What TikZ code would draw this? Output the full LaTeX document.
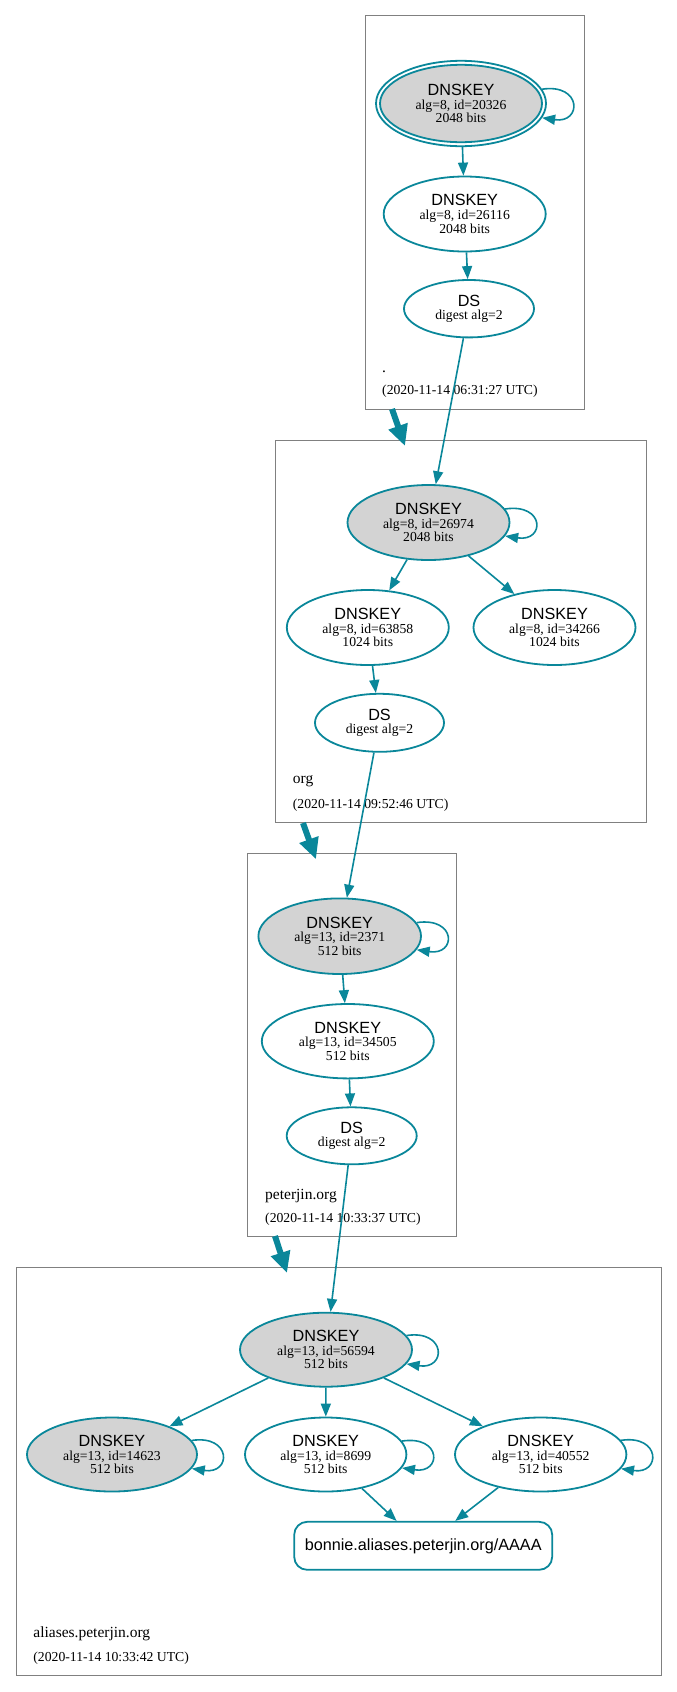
\documentclass[tikz,border=0pt]{standalone}
\usepackage{fontspec}
\setmainfont{Liberation Serif}
\setsansfont{Liberation Sans}
\usetikzlibrary{arrows.meta,shapes.geometric}
\definecolor{dnsteal}{HTML}{0A879A}
\definecolor{kskgray}{HTML}{D3D3D3}
\definecolor{zoneline}{HTML}{808080}
\newcommand{\ttl}[1]{{\sffamily\fontsize{16.2}{13.7}\selectfont #1}}
\begin{document}
\begin{tikzpicture}[x=1pt,y=-1pt,
 key/.style={ellipse, draw=dnsteal, line width=1.8pt, inner sep=0pt, align=center, font=\fontsize{13.7}{13.6}\selectfont},
 ksk/.style={key, fill=kskgray},
 edge/.style={draw=dnsteal, line width=1.6pt, -{Triangle[length=13pt,width=10pt]}},
 deleg/.style={draw=dnsteal, line width=6pt, -{Triangle[length=21pt,width=19pt]}},
 zonebox/.style={draw=zoneline, line width=1pt},
 zlabel/.style={anchor=base west, inner sep=0pt, font=\fontsize{15.5}{16}\selectfont},
 zdate/.style={anchor=base west, inner sep=0pt, font=\fontsize{13.7}{14}\selectfont},
 rrbox/.style={rectangle, rounded corners=13pt, draw=dnsteal, line width=1.8pt, minimum width=258pt, minimum height=48pt, font=\sffamily\fontsize{16.2}{18}\selectfont}
]
\useasboundingbox (0,0) rectangle (677,1692);

% zone boxes
\draw[zonebox] (365,15.7) rectangle (584,409);
\draw[zonebox] (275.7,440) rectangle (646.7,822.7);
\draw[zonebox] (247.7,853.3) rectangle (456,1236);
\draw[zonebox] (16,1267.3) rectangle (661,1675.7);

% zone labels
\node[zlabel] (rlab) at (382,372) {.};
\node[zdate] (rdate) at (382,394.5) {(2020-11-14 06:31:27 UTC)};
\node[zlabel] (olab) at (292.7,783.5) {org};
\node[zdate] (odate) at (292.7,808) {(2020-11-14 09:52:46 UTC)};
\node[zlabel] (plab) at (265,1199) {peterjin.org};
\node[zdate] (pdate) at (265,1222) {(2020-11-14 10:33:37 UTC)};
\node[zlabel] (alab) at (33.2,1637) {aliases.peterjin.org};
\node[zdate] (adate) at (33.2,1661) {(2020-11-14 10:33:42 UTC)};

% root zone
\path[draw=dnsteal, fill=kskgray, line width=1.8pt] (461,103.5) ellipse [x radius=81pt, y radius=38.7pt];
\node[key, minimum width=170pt, minimum height=85.4pt] (rksk) at (461,103.5) {\ttl{DNSKEY}\\alg=8, id=20326\\2048 bits};
\node[key, minimum width=162pt, minimum height=75pt] (rzsk) at (464.7,214) {\ttl{DNSKEY}\\alg=8, id=26116\\2048 bits};
\node[key, minimum width=130pt, minimum height=57.4pt] (rds) at (469,308.7) {\ttl{DS}\\digest alg=2};

% org zone
\node[ksk, minimum width=162pt, minimum height=75pt] (oksk) at (428.5,522.5) {\ttl{DNSKEY}\\alg=8, id=26974\\2048 bits};
\node[key, minimum width=162pt, minimum height=75pt] (ozsk1) at (367.8,627.5) {\ttl{DNSKEY}\\alg=8, id=63858\\1024 bits};
\node[key, minimum width=162pt, minimum height=75pt] (ozsk2) at (554.5,627.5) {\ttl{DNSKEY}\\alg=8, id=34266\\1024 bits};
\node[key, minimum width=129pt, minimum height=58pt] (ods) at (379.5,722.8) {\ttl{DS}\\digest alg=2};

% peterjin.org zone
\node[ksk, minimum width=162.6pt, minimum height=75.6pt] (pksk) at (339.7,936.2) {\ttl{DNSKEY}\\alg=13, id=2371\\512 bits};
\node[key, minimum width=172pt, minimum height=74.4pt] (pzsk) at (347.8,1041.2) {\ttl{DNSKEY}\\alg=13, id=34505\\512 bits};
\node[key, minimum width=130pt, minimum height=57pt] (pds) at (351.7,1135.8) {\ttl{DS}\\digest alg=2};

% aliases.peterjin.org zone
\node[ksk, minimum width=172pt, minimum height=74pt] (aksk) at (326,1349.7) {\ttl{DNSKEY}\\alg=13, id=56594\\512 bits};
\node[ksk, minimum width=170pt, minimum height=74pt] (ak1) at (112,1454.5) {\ttl{DNSKEY}\\alg=13, id=14623\\512 bits};
\node[key, minimum width=161.4pt, minimum height=74pt] (ak2) at (325.7,1454.5) {\ttl{DNSKEY}\\alg=13, id=8699\\512 bits};
\node[key, minimum width=171.4pt, minimum height=74pt] (ak3) at (540.7,1454.5) {\ttl{DNSKEY}\\alg=13, id=40552\\512 bits};
\node[rrbox] (aaaa) at (423.2,1545.8) {bonnie.aliases.peterjin.org/AAAA};

% delegation arrows
\coordinate (d1s) at (392,409);
\coordinate (d1e) at (405,446);
\coordinate (d2s) at (303,823);
\coordinate (d2e) at (316,859.3);
\coordinate (d3s) at (275,1236);
\coordinate (d3e) at (287,1273);
\draw[deleg] (d1s) -- (d1e);
\draw[deleg] (d2s) -- (d2e);
\draw[deleg] (d3s) -- (d3e);

% edges
\draw[edge] (rksk) -- (rzsk);
\draw[edge] (rzsk) -- (rds);
\draw[edge] (rds) -- (oksk);
\draw[edge] (oksk) -- (ozsk1);
\draw[edge] (oksk) -- (ozsk2);
\draw[edge] (ozsk1) -- (ods);
\draw[edge] (ods) -- (pksk);
\draw[edge] (pksk) -- (pzsk);
\draw[edge] (pzsk) -- (pds);
\draw[edge] (pds) -- (aksk);
\draw[edge] (aksk) -- (ak1);
\draw[edge] (aksk) -- (ak2);
\draw[edge] (aksk) -- (ak3);
\draw[edge] (ak2) -- (aaaa);
\draw[edge] (ak3) -- (aaaa);

% self loops
\foreach \n in {rksk,oksk,pksk,aksk,ak1,ak2,ak3}{
  \draw[edge] (\n.10) .. controls +(40,-6) and +(40,6) .. (\n.-10);
}
\end{tikzpicture}
\end{document}
